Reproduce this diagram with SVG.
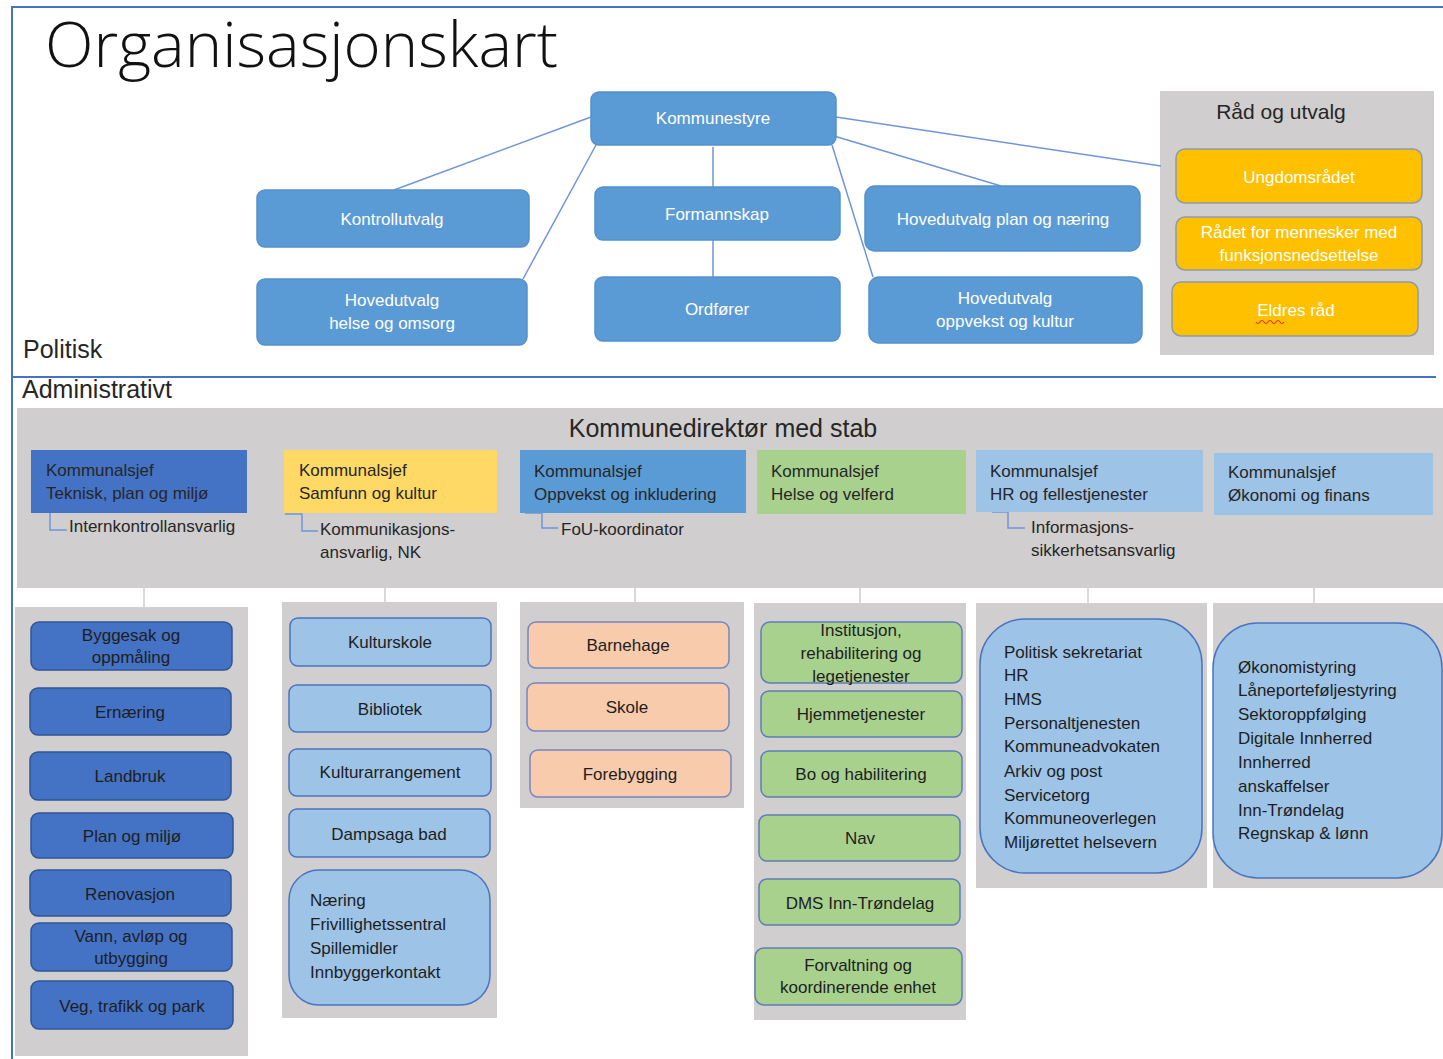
<svg xmlns="http://www.w3.org/2000/svg" width="1443" height="1059" viewBox="0 0 1443 1059">
<style>
text{font-family:"Liberation Sans",Arial,sans-serif;}
.pol rect{fill:#5B9BD5;stroke:#5590CC;stroke-width:1.5;}
.pol text{fill:#fff;font-size:17px;text-anchor:middle;}
.ylw rect{fill:#FFC000;stroke:#8C9AB0;stroke-width:1.5;}
.ylw text{fill:#fff;font-size:17px;text-anchor:middle;}
.gray{fill:#D0CECE;}
.hd{fill:#262626;font-size:25px;}
.ks text{fill:#262626;font-size:17px;}
.sub{fill:#262626;font-size:17px;}
.it text{fill:#1E1E1E;font-size:17px;text-anchor:middle;}
.lt text{fill:#1E1E1E;font-size:17px;}
.c1 rect{fill:#4472C4;stroke:#2F5597;stroke-width:1.5;}
.c2 rect{fill:#9DC3E6;stroke:#4A74C0;stroke-width:1.5;}
.c3 rect{fill:#F8CBAD;stroke:#7586BE;stroke-width:1.5;}
.c4 rect{fill:#A9D18E;stroke:#5F7DB8;stroke-width:1.5;}
.c5 rect{fill:#9DC3E6;stroke:#4A74C0;stroke-width:1.5;}
.conn line,.conn polyline{stroke:#7095D8;stroke-width:1.5;fill:none;}
.vconn line{stroke:#D9D9D9;stroke-width:2;}
</style>

<!-- frame -->
<line x1="12" y1="7" x2="1443" y2="7" stroke="#4472C4" stroke-width="2"/>
<line x1="12" y1="6" x2="12" y2="1059" stroke="#4472C4" stroke-width="2"/>
<line x1="12" y1="377" x2="1436" y2="377" stroke="#4472C4" stroke-width="2"/>

<text x="45" y="67" font-size="63" font-weight="300" textLength="513" lengthAdjust="spacingAndGlyphs" style="font-family:'Open Sans','Liberation Sans',sans-serif" fill="#111">Organisasjonskart</text>
<text class="hd" x="23" y="358">Politisk</text>
<text class="hd" x="22" y="398">Administrativt</text>

<!-- background panels -->
<g id="rad-og-utvalg">
<rect class="gray" x="1160" y="91" width="274" height="264"/>
<text x="1281" y="119" font-size="21" fill="#262626" text-anchor="middle">Råd og utvalg</text>
</g>
<g id="kommunedirektor">
<rect class="gray" x="17" y="408" width="1426" height="180"/>
<text class="hd" x="723" y="437" text-anchor="middle" font-size="24">Kommunedirektør med stab</text>
</g>
<g id="columns">
<rect class="gray" x="15" y="607" width="233" height="449"/>
<rect class="gray" x="282" y="602" width="215" height="416"/>
<rect class="gray" x="520" y="602" width="224" height="206"/>
<rect class="gray" x="754" y="603" width="212" height="417"/>
<rect class="gray" x="976" y="603" width="231" height="285"/>
<rect class="gray" x="1213" y="603" width="230" height="285"/>
</g>

<!-- connectors -->
<g id="connectors">
<g class="conn">
<line x1="591" y1="117" x2="394" y2="190"/>
<line x1="596" y1="145" x2="523" y2="279"/>
<line x1="713" y1="147" x2="713" y2="187"/>
<line x1="713" y1="240" x2="713" y2="277"/>
<line x1="836" y1="117" x2="1161" y2="166"/>
<line x1="834" y1="136" x2="1001" y2="186"/>
<line x1="832" y1="145" x2="873" y2="277"/>
<polyline points="50,513 50,530 67,530"/>
<polyline points="285,514 302,514 302,531 318,531"/>
<polyline points="525,513 542,513 542,528 558,528"/>
<polyline points="992,512 1008,512 1008,528 1025,528"/>
</g>
<g class="vconn">
<line x1="144" y1="588" x2="144" y2="607"/>
<line x1="385" y1="588" x2="385" y2="602"/>
<line x1="635" y1="588" x2="635" y2="602"/>
<line x1="860" y1="588" x2="860" y2="603"/>
<line x1="1088" y1="588" x2="1088" y2="603"/>
<line x1="1314" y1="588" x2="1314" y2="603"/>
</g>
</g>

<!-- political -->
<g id="kommunestyre" class="pol"><rect x="591" y="92" width="245" height="53" rx="8"/><text x="713" y="124">Kommunestyre</text></g>
<g id="kontrollutvalg" class="pol"><rect x="257" y="190" width="272" height="57" rx="8"/><text x="392" y="225">Kontrollutvalg</text></g>
<g id="hovedutvalg-helse" class="pol"><rect x="257" y="279" width="270" height="66" rx="8"/><text x="392" y="306">Hovedutvalg</text><text x="392" y="329">helse og omsorg</text></g>
<g id="formannskap" class="pol"><rect x="595" y="187" width="245" height="53" rx="8"/><text x="717" y="220">Formannskap</text></g>
<g id="ordforer" class="pol"><rect x="595" y="277" width="245" height="64" rx="8"/><text x="717" y="315">Ordfører</text></g>
<g id="hovedutvalg-plan" class="pol"><rect x="865" y="186" width="275" height="65" rx="10"/><text x="1003" y="225">Hovedutvalg  plan og næring</text></g>
<g id="hovedutvalg-oppvekst" class="pol"><rect x="869" y="277" width="273" height="66" rx="10"/><text x="1005" y="304">Hovedutvalg</text><text x="1005" y="327">oppvekst og kultur</text></g>

<g id="ungdomsradet" class="ylw"><rect x="1176" y="149" width="246" height="54" rx="9"/><text x="1299" y="183">Ungdomsrådet</text></g>
<g id="radet-funksjon" class="ylw"><rect x="1176" y="217" width="246" height="53" rx="9"/><text x="1299" y="238">Rådet for mennesker med</text><text x="1299" y="261">funksjonsnedsettelse</text></g>
<g id="eldres-rad" class="ylw"><rect x="1172" y="282" width="246" height="54" rx="9"/><text x="1296" y="316">Eldres råd</text>
<path d="M1256,322 q2,3 4,0 t4,0 t4,0 t4,0 t4,0 t4,0 t4,0" fill="none" stroke="#E03030" stroke-width="1.2"/></g>

<!-- administrative -->
<g id="ks-teknisk" class="ks"><rect x="31" y="450" width="216" height="63" fill="#4472C4"/><text x="46" y="476">Kommunalsjef</text><text x="46" y="499">Teknisk, plan og miljø</text></g>
<g id="ks-samfunn" class="ks"><rect x="284" y="450" width="213" height="63" fill="#FFD966"/><text x="299" y="476">Kommunalsjef</text><text x="299" y="499">Samfunn og kultur</text></g>
<g id="ks-oppvekst" class="ks"><rect x="520" y="450" width="226" height="63" fill="#5B9BD5"/><text x="534" y="477">Kommunalsjef</text><text x="534" y="500">Oppvekst og inkludering</text></g>
<g id="ks-helse" class="ks"><rect x="757" y="450" width="209" height="64" fill="#A9D18E"/><text x="771" y="477">Kommunalsjef</text><text x="771" y="500">Helse og velferd</text></g>
<g id="ks-hr" class="ks"><rect x="976" y="450" width="227" height="62" fill="#9DC3E6"/><text x="990" y="477">Kommunalsjef</text><text x="990" y="500">HR og fellestjenester</text></g>
<g id="ks-okonomi" class="ks"><rect x="1214" y="453" width="219" height="62" fill="#9DC3E6"/><text x="1228" y="478">Kommunalsjef</text><text x="1228" y="501">Økonomi og finans</text></g>

<g id="internkontroll"><text class="sub" x="69" y="532">Internkontrollansvarlig</text></g>
<g id="kommunikasjon"><text class="sub" x="320" y="535">Kommunikasjons-</text><text class="sub" x="320" y="558">ansvarlig, NK</text></g>
<g id="fou"><text class="sub" x="561" y="535">FoU-koordinator</text></g>
<g id="informasjon"><text class="sub" x="1031" y="533">Informasjons-</text><text class="sub" x="1031" y="556">sikkerhetsansvarlig</text></g>

<!-- col1 -->
<g id="byggesak" class="it c1"><rect x="31" y="622" width="201" height="48" rx="8"/><text x="131" y="641">Byggesak og</text><text x="131" y="663">oppmåling</text></g>
<g id="ernaring" class="it c1"><rect x="30" y="688" width="201" height="47" rx="8"/><text x="130" y="718">Ernæring</text></g>
<g id="landbruk" class="it c1"><rect x="30" y="752" width="201" height="48" rx="8"/><text x="130" y="782">Landbruk</text></g>
<g id="plan-miljo" class="it c1"><rect x="31" y="813" width="202" height="45" rx="8"/><text x="132" y="842">Plan og miljø</text></g>
<g id="renovasjon" class="it c1"><rect x="30" y="870" width="201" height="46" rx="8"/><text x="130" y="900">Renovasjon</text></g>
<g id="vann" class="it c1"><rect x="31" y="923" width="201" height="48" rx="8"/><text x="131" y="942">Vann, avløp og</text><text x="131" y="964">utbygging</text></g>
<g id="veg" class="it c1"><rect x="31" y="981" width="202" height="48" rx="8"/><text x="132" y="1012">Veg, trafikk og park</text></g>

<!-- col2 -->
<g id="kulturskole" class="it c2"><rect x="290" y="618" width="201" height="48" rx="8"/><text x="390" y="648">Kulturskole</text></g>
<g id="bibliotek" class="it c2"><rect x="289" y="685" width="202" height="47" rx="8"/><text x="390" y="715">Bibliotek</text></g>
<g id="kulturarrangement" class="it c2"><rect x="289" y="749" width="202" height="47" rx="8"/><text x="390" y="778">Kulturarrangement</text></g>
<g id="dampsaga" class="it c2"><rect x="289" y="809" width="201" height="48" rx="8"/><text x="389" y="840">Dampsaga bad</text></g>
<g id="naring" class="lt c2"><rect x="289" y="870" width="201" height="135" rx="30"/><text x="310" y="906">Næring</text><text x="310" y="930">Frivillighetssentral</text><text x="310" y="954">Spillemidler</text><text x="310" y="978">Innbyggerkontakt</text></g>

<!-- col3 -->
<g id="barnehage" class="it c3"><rect x="528" y="622" width="201" height="46" rx="8"/><text x="628" y="651">Barnehage</text></g>
<g id="skole" class="it c3"><rect x="527" y="683" width="202" height="48" rx="8"/><text x="627" y="713">Skole</text></g>
<g id="forebygging" class="it c3"><rect x="530" y="750" width="201" height="47" rx="8"/><text x="630" y="780">Forebygging</text></g>

<!-- col4 -->
<g id="institusjon" class="it c4"><rect x="761" y="622" width="201" height="61" rx="9"/><text x="861" y="636">Institusjon,</text><text x="861" y="659">rehabilitering og</text><text x="861" y="682">legetjenester</text></g>
<g id="hjemmetjenester" class="it c4"><rect x="761" y="691" width="201" height="46" rx="8"/><text x="861" y="720">Hjemmetjenester</text></g>
<g id="bo-habilitering" class="it c4"><rect x="761" y="751" width="201" height="46" rx="8"/><text x="861" y="780">Bo og habilitering</text></g>
<g id="nav" class="it c4"><rect x="759" y="815" width="201" height="46" rx="8"/><text x="860" y="844">Nav</text></g>
<g id="dms" class="it c4"><rect x="759" y="879" width="201" height="46" rx="8"/><text x="860" y="909">DMS Inn-Trøndelag</text></g>
<g id="forvaltning" class="it c4"><rect x="755" y="948" width="207" height="57" rx="9"/><text x="858" y="971">Forvaltning og</text><text x="858" y="993">koordinerende enhet</text></g>

<!-- col5 -->
<g id="hr-enheter" class="lt c5"><rect x="980" y="619" width="222" height="254" rx="45"/>
<text x="1004" y="658">Politisk sekretariat</text><text x="1004" y="681">HR</text><text x="1004" y="705">HMS</text><text x="1004" y="729">Personaltjenesten</text><text x="1004" y="752">Kommuneadvokaten</text><text x="1004" y="777">Arkiv og post</text><text x="1004" y="801">Servicetorg</text><text x="1004" y="824">Kommuneoverlegen</text><text x="1004" y="848">Miljørettet helsevern</text></g>

<!-- col6 -->
<g id="okonomi-enheter" class="lt c5"><rect x="1213" y="623" width="229" height="255" rx="45"/>
<text x="1238" y="673">Økonomistyring</text><text x="1238" y="696">Låneporteføljestyring</text><text x="1238" y="720">Sektoroppfølging</text><text x="1238" y="744">Digitale Innherred</text><text x="1238" y="768">Innherred</text><text x="1238" y="792">anskaffelser</text><text x="1238" y="816">Inn-Trøndelag</text><text x="1238" y="839">Regnskap &amp; lønn</text></g>
</svg>
